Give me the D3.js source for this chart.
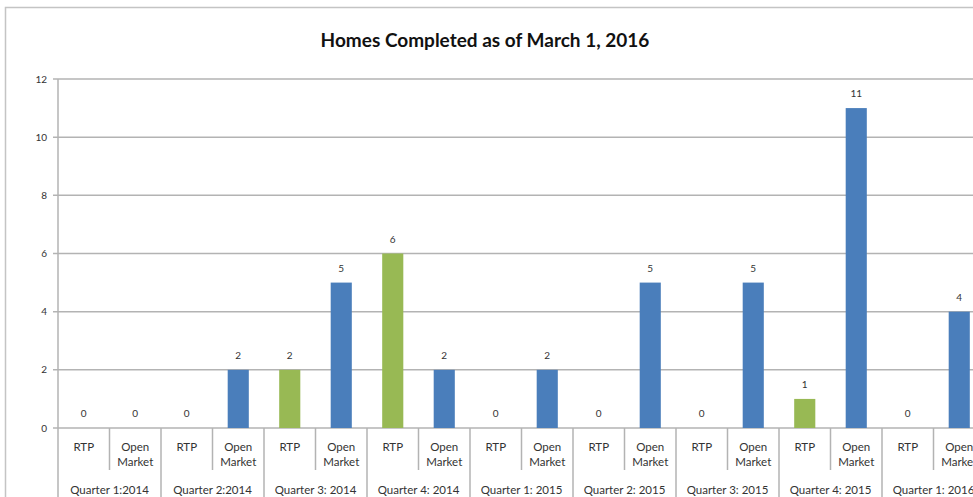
<!DOCTYPE html>
<head>
  <title>Homes Completed as of March 1, 2016</title>
  <style>
    body { margin: 0; background: #fff; }
    svg { display: block; font-family: Lato, "Liberation Sans", sans-serif; }
    .grid line { stroke: #b3b3b3; stroke-width: 1.5; }
    .lbl { font-size: 11.5px; fill: #333; }
  </style>
</head>
<body>
  <script src="https://cdn.jsdelivr.net/npm/d3@7"></script>
  <script>
    // data
    var quarters = ["Quarter 1:2014", "Quarter 2:2014", "Quarter 3: 2014", "Quarter 4: 2014",
                    "Quarter 1: 2015", "Quarter 2: 2015", "Quarter 3: 2015", "Quarter 4: 2015",
                    "Quarter 1: 2016"];
    var types = ["RTP", "Open Market"];
    var rtp = [0, 0, 2, 6, 0, 0, 0, 1, 0];
    var openMarket = [0, 2, 5, 2, 2, 5, 5, 11, 4];
    var yTicks = [0, 2, 4, 6, 8, 10, 12];
    var colors = {"RTP": "#98b954", "Open Market": "#4a7ebb"};

    var W = 973, H = 497;
    var plotL = 58, plotR = 985, plotT = 79, plotB = 428;

    var svg = d3.select("body").append("svg")
      .attr("width", W)
      .attr("height", H);

    // chart frame
    svg.append("path")
      .attr("d", "M5.5," + H + "V7.5H" + W)
      .attr("fill", "none")
      .attr("stroke", "#c4c4c4")
      .attr("stroke-width", 1.5);

    var x0 = d3.scaleBand().domain(quarters).range([plotL, plotR]);
    var x1 = d3.scaleBand().domain(types).range([0, x0.bandwidth()])
      .paddingInner(0.59).paddingOuter(0.295);
    var y = d3.scaleLinear().domain([0, 12]).range([plotB, plotT]);

    // gridlines + y axis
    var grid = svg.append("g").attr("class", "grid");
    grid.selectAll("line")
      .data(yTicks)
      .enter().append("line")
      .attr("x1", plotL - 5).attr("x2", W)
      .attr("y1", function(d) { return y(d); })
      .attr("y2", function(d) { return y(d); });
    grid.append("line")
      .attr("x1", plotL).attr("x2", plotL)
      .attr("y1", plotT).attr("y2", plotB);

    svg.append("g").selectAll("text")
      .data(yTicks)
      .enter().append("text")
      .attr("class", "lbl")
      .attr("x", plotL - 11)
      .attr("y", function(d) { return y(d); })
      .attr("dy", "0.35em")
      .attr("text-anchor", "end")
      .style("font-size", "10px")
      .text(function(d) { return d; });

    // bars
    var rows = [];
    quarters.forEach(function(q, i) {
      rows.push({q: q, t: "RTP", v: rtp[i]});
      rows.push({q: q, t: "Open Market", v: openMarket[i]});
    });

    svg.append("g").selectAll("rect")
      .data(rows)
      .enter().append("rect")
      .attr("x", function(d) { return x0(d.q) + x1(d.t); })
      .attr("width", x1.bandwidth())
      .attr("y", function(d) { return y(d.v); })
      .attr("height", function(d) { return y(0) - y(d.v); })
      .attr("fill", function(d) { return colors[d.t]; });

    // value labels
    svg.append("g").selectAll("text")
      .data(rows)
      .enter().append("text")
      .attr("class", "lbl")
      .attr("x", function(d) { return x0(d.q) + x1(d.t) + x1.bandwidth() / 2; })
      .attr("y", function(d) { return y(d.v) - 11; })
      .attr("text-anchor", "middle")
      .style("font-size", "10px")
      .text(function(d) { return d.v; });

    // category axis: dividers
    var div = svg.append("g").attr("class", "grid");
    quarters.forEach(function(q) {
      div.append("line")
        .attr("x1", x0(q)).attr("x2", x0(q))
        .attr("y1", plotB).attr("y2", H);
      div.append("line")
        .attr("x1", x0(q) + x0.bandwidth() / 2).attr("x2", x0(q) + x0.bandwidth() / 2)
        .attr("y1", plotB).attr("y2", 470);
    });

    // type labels
    rows.forEach(function(d) {
      var cx = x0(d.q) + x1(d.t) + x1.bandwidth() / 2;
      var t = svg.append("text")
        .attr("class", "lbl")
        .attr("text-anchor", "middle")
        .attr("x", cx)
        .attr("y", 451);
      if (d.t === "RTP") {
        t.text("RTP");
      } else {
        t.append("tspan").attr("x", cx).attr("y", 451).text("Open");
        t.append("tspan").attr("x", cx).attr("y", 466).text("Market");
      }
    });

    // quarter labels
    svg.append("g").selectAll("text")
      .data(quarters)
      .enter().append("text")
      .attr("class", "lbl")
      .attr("x", function(d) { return x0(d) + x0.bandwidth() / 2; })
      .attr("y", 494)
      .attr("text-anchor", "middle")
      .text(function(d) { return d; });

    // title
    svg.append("text")
      .attr("x", 485)
      .attr("y", 47)
      .attr("text-anchor", "middle")
      .style("font-size", "19px")
      .style("font-weight", "bold")
      .style("fill", "#111")
      .text("Homes Completed as of March 1, 2016");
  </script>
</body>
